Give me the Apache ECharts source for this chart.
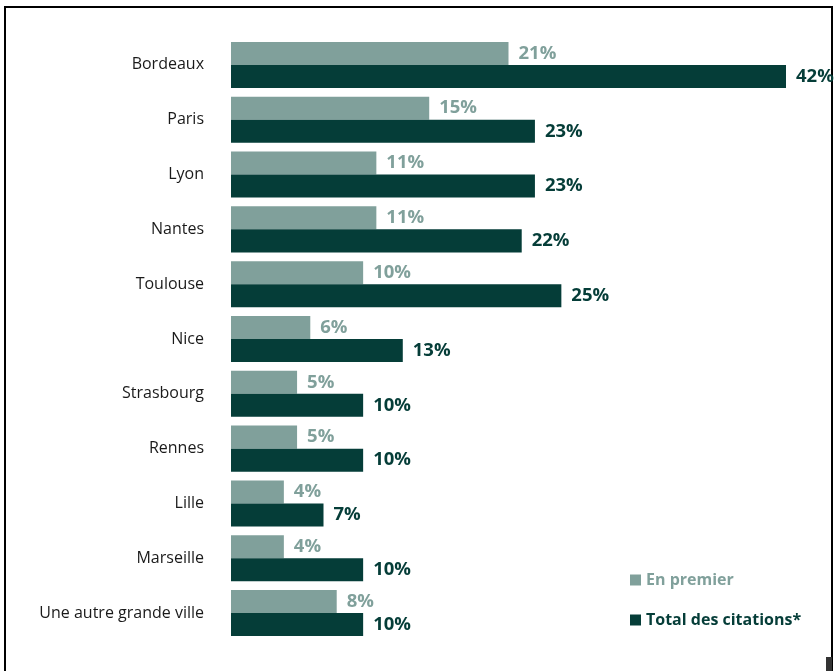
<!DOCTYPE html>
<html><head><meta charset="utf-8">
<script src="https://cdn.jsdelivr.net/npm/echarts@6/dist/echarts.min.js"></script>
<style>html,body{margin:0;padding:0;background:#fff}#c{width:836px;height:671px}</style>
</head><body><div id="c"></div>
<script>
const categories = ['Bordeaux','Paris','Lyon','Nantes','Toulouse','Nice','Strasbourg','Rennes','Lille','Marseille','Une autre grande ville'];
const enPremier = [21,15,11,11,10,6,5,5,4,4,8];
const totalCitations = [42,23,23,22,25,13,10,10,7,10,10];
const seriesNames = ['En premier','Total des citations*'];
const lightColor = '#80a09b';
const darkColor = '#053d38';
const font = '"Open Sans", "Liberation Sans", sans-serif';

const chart = echarts.init(document.getElementById('c'));
chart.setOption({
  animation: false,
  grid: {left: 231, right: 50, top: 37.5, bottom: 30.5, containLabel: false},
  xAxis: {type: 'value', min: 0, max: 42, show: false},
  yAxis: {type: 'category', data: categories, inverse: true,
    axisLine: {show: false}, axisTick: {show: false},
    axisLabel: {margin: 27, color: '#1a1a1a', fontSize: 16, fontFamily: font}},
  legend: {orient: 'vertical', left: 625, top: 567, itemGap: 24, itemWidth: 11, itemHeight: 11,
    icon: 'rect',
    textStyle: {fontFamily: font, fontSize: 16, fontWeight: 'bold'},
    data: [{name: seriesNames[0], textStyle: {color: lightColor}},
           {name: seriesNames[1], textStyle: {color: darkColor}}]},
  graphic: [
    {type: 'rect', shape: {x: 5, y: 7, width: 827, height: 720}, style: {fill: 'none', stroke: '#000', lineWidth: 2}, silent: true},
    {type: 'rect', shape: {x: 826, y: 657, width: 6, height: 14}, style: {fill: '#333'}, silent: true}
  ],
  series: [
    {name: seriesNames[0], type: 'bar', data: enPremier, barGap: '0%', barCategoryGap: '16%',
      itemStyle: {color: lightColor},
      label: {show: true, position: 'right', distance: 10, formatter: '{c}%', color: lightColor, fontWeight: 'bold', fontSize: 18.5, fontFamily: font}},
    {name: seriesNames[1], type: 'bar', data: totalCitations, barGap: '0%', barCategoryGap: '16%',
      itemStyle: {color: darkColor},
      label: {show: true, position: 'right', distance: 10, formatter: '{c}%', color: darkColor, fontWeight: 'bold', fontSize: 18.5, fontFamily: font}}
  ]
});
</script></body></html>
